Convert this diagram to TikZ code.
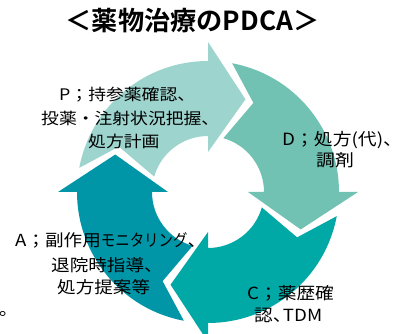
\documentclass[tikz,border=0pt]{standalone}
\usepackage{fontspec}
\newfontfamily\jp[FakeStretch=1.12]{Noto Sans CJK JP}
\newfontfamily\jpk[FakeStretch=0.87]{Noto Sans CJK JP}
\newfontfamily\jpb{Noto Sans CJK JP Bold}
\definecolor{colP}{RGB}{157,212,205}
\definecolor{colD}{RGB}{114,194,180}
\definecolor{colC}{RGB}{0,168,166}
\definecolor{colA}{RGB}{0,150,168}
\newcommand\cycarrow[2]{%
  \fill[#2] ({#1-10.62}:131pt) -- ({#1-27}:100pt) -- ({#1-15.96}:56pt)
    arc[start angle={#1-15.96}, end angle={#1-90}, radius=56pt]
    -- ({#1-90}:40pt) -- ({#1-112}:100pt) -- ({#1-90}:150pt) -- ({#1-90}:131pt)
    arc[start angle={#1-90}, end angle={#1-10.62}, radius=131pt] -- cycle;}
\tikzset{
  lbl/.style={inner sep=0pt, anchor=base west, text=black},
  ptxt/.style={lbl, font=\fontsize{15.9}{19}\jp},
  dtxt/.style={lbl, font=\fontsize{16.8}{20}\jp},
  ctxt/.style={lbl, font=\fontsize{16.7}{20}\jp},
  atxt/.style={lbl, font=\fontsize{16.6}{20}\jp},
  ttl/.style={inner sep=0pt, anchor=base, font=\fontsize{26.2}{31}\jpb}
}
\begin{document}
\begin{tikzpicture}
\path[use as bounding box, clip] (0,0) rectangle (402pt,-334pt);
\fill[white] (0,0) rectangle (402pt,-334pt);
\begin{scope}[shift={(208pt,-192pt)}]
  \cycarrow{180}{colP}
  \cycarrow{90}{colD}
  \cycarrow{0}{colC}
  \cycarrow{-90}{colA}
\end{scope}
\node[ttl] (title) at (192.5pt,-31pt) {＜薬物治療のPDCA＞};
\node[ptxt] (p1) at (59pt,-100.5pt) {P；持参薬確認、};
\node[ptxt] (p2) at (41pt,-125pt) {投薬・注射状況把握、};
\node[ptxt] (p3) at (88pt,-148pt) {処方計画};
\node[dtxt] (d1) at (282pt,-145.4pt) {D；処方(代)、};
\node[dtxt] (d2) at (316pt,-166.4pt) {調剤};
\node[ctxt] (c1) at (247pt,-299.3pt) {C；薬歴確};
\node[ctxt] (c2) at (254pt,-321.3pt) {認\makebox[0.6em][l]{、}TDM};
\node[atxt] (a1) at (15pt,-246.3pt) {A；副作用{\fontsize{16.6}{20}\jpk モニタリング}、};
\node[atxt] (a2) at (51pt,-271.3pt) {退院時指導、};
\node[atxt] (a3) at (57pt,-293.3pt) {処方提案等};
\node[lbl, font=\fontsize{16.6}{20}\jp] (dot) at (-1pt,-315pt) {。};
\end{tikzpicture}
\end{document}
